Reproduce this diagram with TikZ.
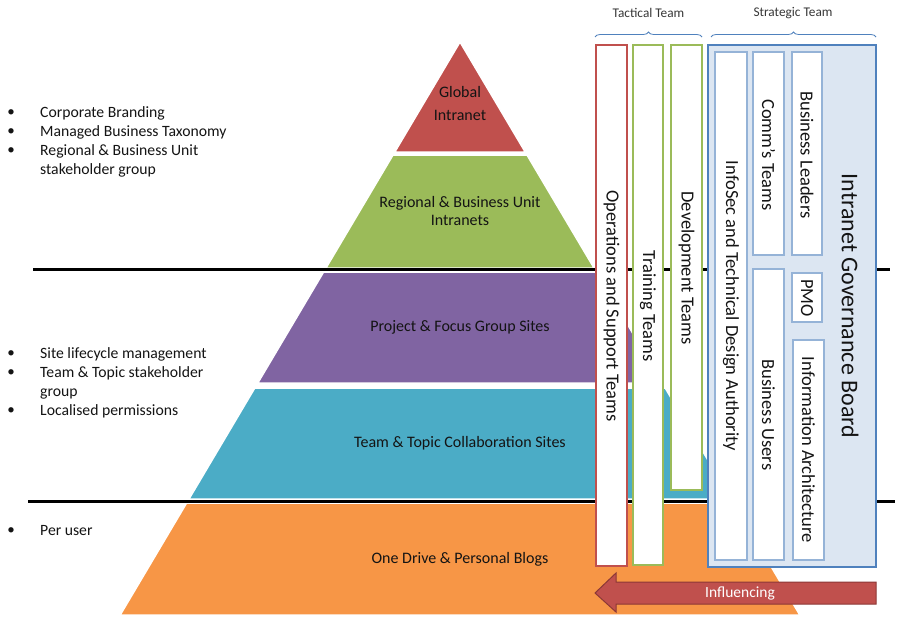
\documentclass[tikz,border=0pt]{standalone}
\usepackage{fontspec}
\setmainfont{Carlito}
\usetikzlibrary{decorations.pathreplacing}
\definecolor{lred}{HTML}{C0504D}
\definecolor{lgreen}{HTML}{9BBB59}
\definecolor{lpurple}{HTML}{8064A2}
\definecolor{lblue}{HTML}{4BACC6}
\definecolor{lorange}{HTML}{F79646}
\definecolor{sblue}{HTML}{4F81BD}
\definecolor{pblue}{HTML}{95B3D7}
\definecolor{bgblue}{HTML}{DCE6F2}
\definecolor{darkred}{HTML}{8C3836}
\definecolor{txt}{HTML}{141414}
\begin{document}
\begin{tikzpicture}[x=1pt,y=-1pt,
  layer/.style={draw=white,line width=1.5pt},
  ptext/.style={font=\fontsize{16}{18}\selectfont,text=txt,align=center},
  bul/.style={font=\fontsize{15.7}{19}\selectfont,text=txt,anchor=west,align=left,inner sep=0pt},
  dotn/.style={font=\fontsize{15}{19}\selectfont,text=txt},
  tbox/.style={draw,fill=white,line width=2pt,inner sep=0pt},
  sbox/.style={draw=pblue,fill=white,line width=2.5pt,inner sep=0pt},
  vtext/.style={rotate=-90,font=\fontsize{18.5}{20}\selectfont,text=txt},
  brc/.style={draw=sblue,line width=0.8pt,decorate,decoration={brace,amplitude=5pt}},
  team/.style={font=\fontsize{13.3}{15}\selectfont,text=txt!85},
  sepline/.style={line width=3pt,black}]
\useasboundingbox (0,0) rectangle (900,640);
\fill[white] (0,0) rectangle (900,640);
% pyramid layers
\fill[lorange,layer] (186.6,503) -- (733.4,503) -- (799.8,615) -- (120.2,615) -- cycle;
\fill[lblue,layer] (254.8,388) -- (665.2,388) -- (731,499) -- (189,499) -- cycle;
\fill[lpurple,layer] (323.6,272) -- (596.4,272) -- (662.2,383) -- (257.8,383) -- cycle;
\fill[lgreen,layer] (393,155) -- (527,155) -- (594,268) -- (326,268) -- cycle;
\fill[lred,layer] (460,42) -- (525.2,152) -- (394.8,152) -- cycle;
% separator lines
\draw[sepline] (33,269) -- (890,269);
\draw[sepline] (28,501) -- (895,501);
% pyramid labels
\node[ptext] (global) at (460,104) {Global\\[5pt]Intranet};
\node[ptext] (regional) at (460,211.5) {Regional \& Business Unit\\Intranets};
\node[ptext] (project) at (460,327) {Project \& Focus Group Sites};
\node[ptext] (team) at (460,443) {Team \& Topic Collaboration Sites};
\node[ptext] (onedrive) at (460,559) {One Drive \& Personal Blogs};
% bullets
\foreach \y/\n in {113/a,132/b,151/c,354/d,373/e,411/f,531/g}{
  \node[dotn] (dot\n) at (11,\y) {•};
}
\node[bul] (b1) at (40,113) {Corporate Branding};
\node[bul] (b2) at (40,132) {Managed Business Taxonomy};
\node[bul] (b3) at (40,160.5) {Regional \& Business Unit\\stakeholder group};
\node[bul] (b4) at (40,354) {Site lifecycle management};
\node[bul] (b5) at (40,382.5) {Team \& Topic stakeholder\\group};
\node[bul] (b6) at (40,411) {Localised permissions};
\node[bul] (b7) at (40,531) {Per user};
% tactical boxes
\node[tbox,draw=lred,minimum width=31pt,minimum height=521pt] (ops) at (611.5,305.5) {};
\node[tbox,draw=lgreen,minimum width=30pt,minimum height=520pt] (train) at (648,305) {};
\node[tbox,draw=lgreen,minimum width=31pt,minimum height=445pt] (dev) at (686.5,267.5) {};
\node[vtext] (opst) at (611.5,306) {Operations and Support Teams};
\node[vtext] (traint) at (648,306) {Training Teams};
\node[vtext] (devt) at (686.5,268) {Development Teams};
% strategic box
\node[draw=sblue,fill=bgblue,line width=2.5pt,minimum width=168pt,minimum height=522pt,inner sep=0pt] (board) at (792,306) {};
\node[sbox,minimum width=32pt,minimum height=508pt] (infosec) at (731,306) {};
\node[sbox,minimum width=31pt,minimum height=203pt] (comms) at (768.5,153.5) {};
\node[sbox,minimum width=31pt,minimum height=291pt] (busu) at (768.5,414.5) {};
\node[sbox,minimum width=30pt,minimum height=203pt] (busl) at (807,153.5) {};
\node[sbox,minimum width=30pt,minimum height=49pt] (pmo) at (807,297.5) {};
\node[sbox,minimum width=31pt,minimum height=220pt] (infoa) at (808.5,450) {};
\node[vtext] (infosect) at (731,306) {InfoSec and Technical Design Authority};
\node[vtext] (commst) at (768.5,155) {Comm’s Teams};
\node[vtext] (buslt) at (807,155) {Business Leaders};
\node[vtext] (pmot) at (807,298) {PMO};
\node[vtext] (busut) at (768.5,415) {Business Users};
\node[vtext] (infoat) at (808.5,450) {Information Architecture};
\node[vtext,font=\fontsize{24}{26}\selectfont] (boardt) at (850,306) {Intranet Governance Board};
% braces and team labels
\draw[brc] (595,37) -- (702,37) coordinate[pos=0.5] (tacb);
\draw[brc] (711,37) -- (876,37) coordinate[pos=0.5] (strb);
\node[team] (tact) at (648.5,13) {Tactical Team};
\node[team] (strat) at (793,13) {Strategic Team};
% influencing arrow
\fill[lred,draw=darkred,line width=1pt] (876,582) -- (616,582) -- (616,573) -- (595,593) -- (616,612) -- (616,604) -- (876,604) -- cycle;
\node[font=\fontsize{15.5}{17}\selectfont,text=white] (infl) at (740,593) {Influencing};
\end{tikzpicture}
\end{document}
